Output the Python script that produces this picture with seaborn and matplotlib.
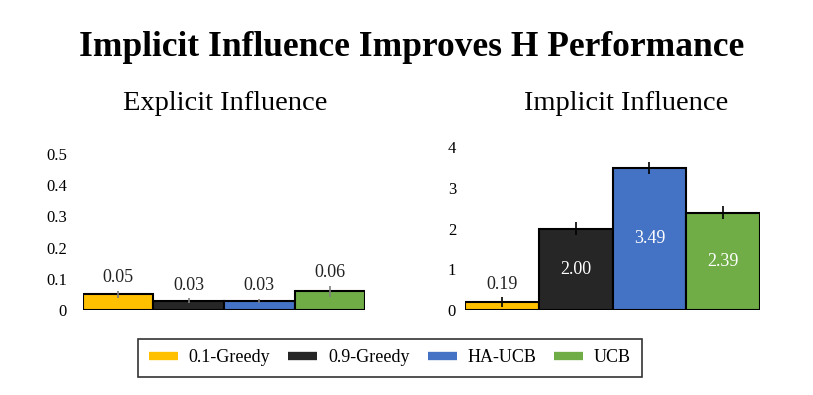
import matplotlib
matplotlib.use("Agg")
import matplotlib.pyplot as plt
import seaborn as sns
import pandas as pd
from matplotlib.lines import Line2D

sns.set_theme(style="white")
plt.rcParams['font.family'] = ['Liberation Serif', 'DejaVu Serif']
plt.rcParams['text.color'] = 'black'
plt.rcParams['ytick.color'] = 'black'

methods = ["0.1-Greedy", "0.9-Greedy", "HA-UCB", "UCB"]
colors = ["#FFC000", "#262626", "#4472C4", "#70AD47"]

explicit_vals = [0.05, 0.03, 0.03, 0.06]
explicit_err = [0.011, 0.008, 0.006, 0.017]
implicit_vals = [0.19, 2.00, 3.49, 2.39]
implicit_err = [0.12, 0.15, 0.15, 0.15]

fig = plt.figure(figsize=(8.13, 3.95), dpi=100)
ax1 = fig.add_axes([0.102, 0.215, 0.347, 0.395])
ax2 = fig.add_axes([0.572, 0.215, 0.363, 0.413])


def draw(ax, vals, errs, ymax, step, fmt_ticks, inside, errcolor, pad):
    df = pd.DataFrame({"method": methods, "value": vals})
    sns.barplot(data=df, x="method", y="value", hue="method", palette=colors,
                saturation=1, width=1.0, edgecolor="black", linewidth=1.5,
                legend=False, ax=ax)
    xs = [p.get_x() + p.get_width() / 2 for p in ax.patches]
    ax.errorbar(xs, vals, yerr=errs, fmt="none", ecolor=errcolor, elinewidth=1.2, capsize=0)
    for x, v, e, ins in zip(xs, vals, errs, inside):
        if ins:
            ax.text(x, v / 2, f"{v:.2f}", ha="center", va="center", color="white", fontsize=13)
        else:
            ax.text(x, v + e + ymax * 0.03, f"{v:.2f}", ha="center", va="bottom", color="#222222", fontsize=13)
    ax.set_xlim(-0.5, 3.5)
    ax.set_ylim(0, ymax)
    ticks = [i * step for i in range(int(round(ymax / step)) + 1)]
    ax.set_yticks(ticks)
    ax.set_yticklabels([fmt_ticks(t) for t in ticks], fontsize=12)
    ax.tick_params(axis="y", length=0, pad=pad)
    ax.set_xticks([])
    ax.set_xlabel("")
    ax.set_ylabel("")
    for s in ax.spines.values():
        s.set_visible(False)


draw(ax1, explicit_vals, explicit_err, 0.5, 0.1,
     lambda t: "0" if t == 0 else f"{t:.1f}", [False] * 4, "#7f7f7f", 11.5)
draw(ax2, implicit_vals, implicit_err, 4.0, 1.0,
     lambda t: f"{int(t)}", [False, True, True, True], "black", 6.5)

fig.text(225 / 813, 1 - 104 / 395, "Explicit Influence", fontsize=20.5,
         ha="center", va="center")
fig.text(626 / 813, 1 - 104 / 395, "Implicit Influence", fontsize=20.5,
         ha="center", va="center")

fig.text(412 / 813, 1 - 47 / 395, "Implicit Influence Improves H Performance",
         fontsize=25.5, fontweight="bold", ha="center", va="center")

handles = [Line2D([0], [0], color=c, lw=6, solid_capstyle="butt") for c in colors]
leg = fig.legend(handles, methods, loc="center", bbox_to_anchor=(390 / 813, 1 - 358 / 395),
                 ncol=4, frameon=True, fontsize=13, handlelength=1.6,
                 columnspacing=1.0, handletextpad=0.6, fancybox=False,
                 borderpad=0.6)
leg.get_frame().set_edgecolor("black")
leg.get_frame().set_linewidth(1.2)

fig.savefig("out.png", dpi=100)
